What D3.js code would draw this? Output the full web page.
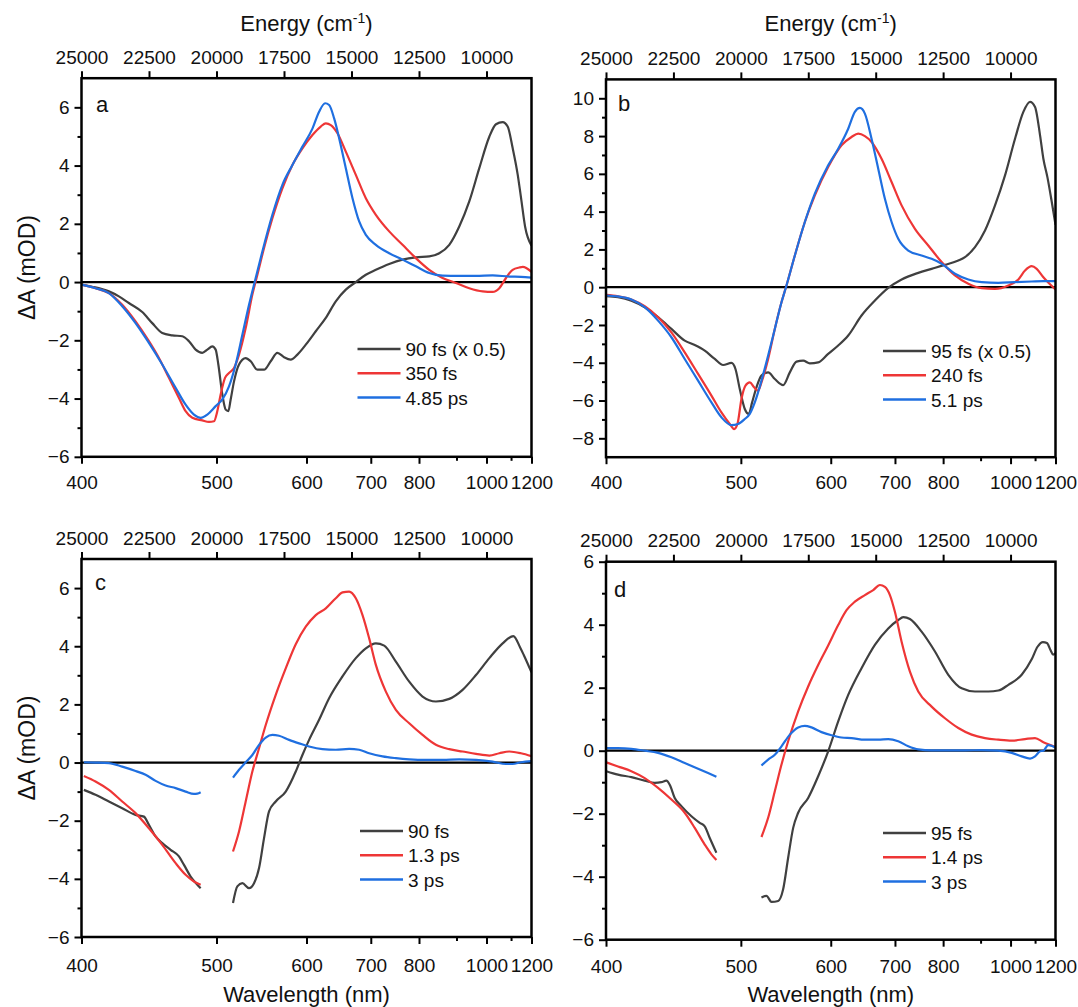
<!DOCTYPE html>
<html>
<head>
<meta charset="utf-8">
<script src="https://cdn.jsdelivr.net/npm/d3@7"></script>
<style>
  body { margin: 0; background: #fff; }
  svg text { font-family: "Liberation Sans", Arial, sans-serif; fill: #111; }
</style>
</head>
<body>
<svg id="fig" width="1078" height="1007"></svg>
<script>
// tick labels
var wlTicks = [400, 500, 600, 700, 800, 1000, 1200];
var wlMinor = [900, 1100];
var eTicks = [25000, 22500, 20000, 17500, 15000, 12500, 10000];

// legend labels
var legendA = ["90 fs (x 0.5)", "350 fs", "4.85 ps"];
var legendB = ["95 fs (x 0.5)", "240 fs", "5.1 ps"];
var legendC = ["90 fs", "1.3 ps", "3 ps"];
var legendD = ["95 fs", "1.4 ps", "3 ps"];

// spectra: [energy (cm-1), dA (mOD)], null = gap in probe window
var a90fs = [[25000,-0.09],[24604,-0.16],[23986,-0.32],[23616,-0.49],[23245,-0.72],[22750,-1.03],[22380,-1.41],[22009,-1.75],[21638,-1.83],[21267,-1.86],[21020,-2.03],[20773,-2.32],[20526,-2.43],[20340,-2.32],[20155,-2.21],[20031,-2.32],[19932,-2.83],[19784,-3.86],[19660,-4.38],[19562,-4.43],[19475,-4.03],[19351,-3.41],[19166,-2.83],[18919,-2.61],[18733,-2.72],[18486,-3.01],[18239,-3.01],[17992,-2.72],[17745,-2.43],[17497,-2.58],[17250,-2.66],[17003,-2.49],[16694,-2.15],[16323,-1.69],[15952,-1.23],[15582,-0.66],[15211,-0.26],[14840,0],[14469,0.25],[14098,0.42],[13604,0.62],[13110,0.77],[12615,0.85],[12121,0.88],[11750,0.99],[11379,1.28],[11009,1.91],[10638,2.77],[10267,3.91],[9896,4.99],[9649,5.42],[9402,5.49],[9216,5.34],[9031,4.6],[8846,3.7],[8722,2.9],[8570,1.9],[8333,1.25]];
var a350fs = [[25000,-0.09],[24481,-0.21],[23986,-0.38],[23492,-0.78],[22998,-1.35],[22503,-2.03],[22132,-2.61],[21762,-3.29],[21391,-3.98],[21144,-4.43],[20896,-4.66],[20526,-4.75],[20278,-4.80],[20093,-4.78],[19969,-4.43],[19846,-3.86],[19685,-3.29],[19537,-3.12],[19351,-2.95],[19166,-2.49],[18919,-1.58],[18672,-0.43],[18486,0.25],[18239,1.17],[17930,2.19],[17559,3.22],[17188,4.02],[16818,4.59],[16447,5.05],[16138,5.34],[15952,5.45],[15767,5.39],[15520,5.11],[15211,4.48],[14840,3.68],[14469,2.88],[14098,2.31],[13604,1.74],[13110,1.28],[12615,0.82],[12121,0.42],[11626,0.14],[11132,-0.03],[10638,-0.21],[10143,-0.32],[9772,-0.34],[9525,-0.21],[9278,0.14],[9031,0.42],[8784,0.50],[8655,0.52],[8333,0.35]];
var a485ps = [[25000,-0.09],[24481,-0.21],[23986,-0.38],[23492,-0.83],[22998,-1.41],[22503,-2.09],[22009,-2.83],[21514,-3.63],[21144,-4.21],[20835,-4.55],[20587,-4.66],[20340,-4.55],[20031,-4.26],[19784,-4.03],[19537,-3.58],[19290,-2.83],[19042,-1.81],[18795,-0.78],[18548,0.14],[18301,1.05],[17930,2.31],[17559,3.34],[17188,4.02],[16818,4.65],[16447,5.27],[16200,5.85],[15977,6.14],[15829,6.08],[15643,5.62],[15458,4.94],[15211,3.91],[14963,2.88],[14716,2.08],[14469,1.62],[14098,1.28],[13604,0.99],[13110,0.77],[12615,0.54],[12121,0.31],[11626,0.22],[11009,0.21],[10390,0.21],[9772,0.23],[9154,0.19],[8722,0.18],[8333,0.15]];

var b95fs = [[25000,-0.48],[24555,-0.53],[24060,-0.71],[23565,-1.06],[23070,-1.59],[22575,-2.21],[22081,-2.83],[21710,-3.06],[21339,-3.36],[20967,-3.80],[20658,-4.12],[20349,-4.01],[20200,-4.33],[20040,-5.39],[19854,-6.45],[19706,-6.71],[19582,-6.10],[19421,-5.30],[19236,-4.68],[18988,-4.51],[18741,-4.86],[18432,-5.18],[18184,-4.51],[17937,-3.94],[17689,-3.89],[17442,-4.03],[17133,-3.98],[16762,-3.53],[16390,-3.09],[16019,-2.56],[15525,-1.50],[15030,-0.71],[14535,-0.04],[14040,0.41],[13422,0.76],[12927,0.97],[12432,1.18],[11937,1.41],[11690,1.59],[11319,2.12],[10947,3.00],[10576,4.33],[10205,5.92],[9834,7.86],[9525,9.28],[9278,9.81],[9092,9.54],[8906,8.04],[8783,6.8],[8630,5.8],[8482,4.6],[8333,3.3]];
var b240fs = [[25000,-0.41],[24555,-0.48],[24060,-0.65],[23565,-1.01],[23070,-1.59],[22575,-2.39],[22081,-3.45],[21586,-4.59],[21091,-5.74],[20720,-6.63],[20411,-7.24],[20250,-7.51],[20126,-7.24],[19978,-5.92],[19829,-5.21],[19668,-5.04],[19508,-5.30],[19359,-5.48],[19236,-5.04],[18988,-3.80],[18741,-2.21],[18493,-0.80],[18308,0.09],[17998,1.68],[17627,3.45],[17256,4.86],[16762,6.36],[16267,7.51],[15896,7.95],[15648,8.13],[15401,8.00],[15154,7.69],[14783,6.80],[14411,5.57],[14040,4.33],[13545,3.09],[13051,2.21],[12556,1.33],[12061,0.62],[11566,0.18],[11071,-0.05],[10576,-0.09],[10082,0.09],[9711,0.41],[9463,0.88],[9216,1.11],[9030,0.97],[8783,0.53],[8333,-0.12]];
var b51ps = [[25000,-0.44],[24555,-0.49],[24060,-0.65],[23565,-1.06],[23070,-1.77],[22575,-2.65],[22081,-3.80],[21586,-4.95],[21091,-6.10],[20720,-6.89],[20349,-7.30],[20101,-7.24],[19854,-6.98],[19669,-6.71],[19483,-6.10],[19236,-4.95],[18988,-3.62],[18741,-2.21],[18493,-0.80],[18308,0.09],[17998,1.68],[17627,3.45],[17256,4.95],[16762,6.45],[16390,7.33],[16019,8.39],[15772,9.28],[15586,9.49],[15401,9.19],[15154,7.86],[14906,6.27],[14659,4.68],[14411,3.45],[14164,2.56],[13793,1.94],[13298,1.68],[12927,1.50],[12556,1.24],[12061,0.71],[11566,0.41],[11071,0.27],[10453,0.23],[9834,0.27],[9216,0.30],[8783,0.32],[8333,0.32]];

var c90fs = [[24913,-0.94],[24481,-1.11],[23986,-1.34],[23492,-1.57],[22998,-1.80],[22689,-1.86],[22503,-2.14],[22256,-2.54],[22009,-2.77],[21700,-3.00],[21391,-3.23],[21205,-3.52],[20958,-3.92],[20711,-4.20],[20587,-4.32],[20000,null],[19389,-4.83],[19228,-4.26],[19042,-4.15],[18795,-4.32],[18610,-4.15],[18424,-3.63],[18239,-2.60],[18054,-1.68],[17806,-1.34],[17436,-1.00],[17065,-0.31],[16818,0.26],[16570,0.78],[16200,1.47],[15829,2.21],[15334,2.96],[14840,3.59],[14469,3.93],[14098,4.10],[13789,4.02],[13357,3.47],[12862,2.78],[12368,2.27],[11874,2.10],[11379,2.19],[10885,2.50],[10390,3.01],[9896,3.59],[9402,4.10],[9006,4.35],[8750,3.95],[8620,3.7],[8333,3.1]];
var c13ps = [[24913,-0.46],[24481,-0.65],[23986,-0.94],[23492,-1.34],[22998,-1.74],[22503,-2.26],[22009,-2.83],[21514,-3.46],[21144,-3.86],[20835,-4.09],[20587,-4.20],[20000,null],[19389,-3.06],[19166,-2.37],[18919,-1.34],[18672,-0.31],[18424,0.49],[18177,1.29],[17806,2.33],[17436,3.24],[17065,4.07],[16694,4.67],[16323,5.07],[15952,5.30],[15582,5.65],[15334,5.85],[15087,5.88],[14840,5.65],[14592,5.07],[14345,4.27],[14098,3.36],[13727,2.44],[13357,1.81],[12862,1.35],[12368,0.95],[11874,0.61],[11379,0.46],[10885,0.38],[10390,0.30],[9896,0.24],[9525,0.32],[9154,0.38],[8722,0.32],[8333,0.22]];
var c3ps = [[24913,0.01],[24481,0],[23986,-0.02],[23492,-0.14],[22998,-0.29],[22627,-0.42],[22256,-0.63],[21885,-0.79],[21514,-0.88],[21144,-1.00],[20835,-1.08],[20711,-1.07],[20587,-1.02],[20000,null],[19389,-0.52],[19166,-0.25],[18919,0.01],[18672,0.26],[18424,0.61],[18177,0.86],[17930,0.95],[17683,0.92],[17312,0.78],[16941,0.66],[16570,0.55],[16076,0.46],[15582,0.44],[15087,0.47],[14716,0.44],[14345,0.32],[13851,0.21],[13357,0.15],[12862,0.11],[12245,0.09],[11626,0.09],[11009,0.11],[10390,0.09],[9772,0.03],[9278,-0.05],[9031,-0.05],[8722,0.01],[8333,0.05]];

var d95fs = [[24988,-0.65],[24555,-0.76],[24060,-0.84],[23565,-0.95],[23194,-1.02],[22947,-1.00],[22761,-0.95],[22637,-1.08],[22452,-1.50],[22204,-1.76],[21833,-2.08],[21524,-2.29],[21339,-2.40],[21153,-2.77],[20906,-3.24],[20000,null],[19236,-4.66],[19050,-4.61],[18864,-4.80],[18617,-4.77],[18432,-4.40],[18246,-3.40],[18060,-2.45],[17875,-1.97],[17504,-1.50],[17133,-0.81],[16762,-0.02],[16390,0.93],[16019,1.77],[15525,2.62],[15030,3.36],[14535,3.88],[14164,4.15],[13978,4.24],[13731,4.18],[13298,3.78],[12803,3.15],[12308,2.41],[11813,1.98],[11319,1.88],[10824,1.88],[10453,1.91],[10082,2.09],[9587,2.41],[9216,2.9],[9000,3.3],[8800,3.45],[8650,3.42],[8520,3.2],[8420,3.05],[8333,3.1]];
var d14ps = [[24988,-0.37],[24555,-0.50],[24060,-0.65],[23565,-0.87],[23070,-1.18],[22575,-1.55],[22081,-1.97],[21710,-2.45],[21339,-2.98],[21091,-3.29],[20906,-3.47],[20000,null],[19236,-2.74],[18988,-2.13],[18741,-1.29],[18493,-0.44],[18246,0.30],[17875,1.25],[17504,2.04],[17133,2.72],[16762,3.34],[16390,3.99],[16081,4.46],[15772,4.73],[15401,4.94],[15092,5.10],[14844,5.26],[14659,5.20],[14473,4.94],[14288,4.41],[14040,3.46],[13731,2.51],[13422,1.88],[12927,1.40],[12432,1.03],[11937,0.72],[11442,0.51],[10947,0.40],[10453,0.35],[9958,0.32],[9463,0.37],[9092,0.40],[8783,0.27],[8333,0.12]];
var d3ps = [[24988,0.08],[24555,0.08],[24060,0.06],[23565,0],[23070,-0.07],[22575,-0.21],[22081,-0.39],[21586,-0.57],[21215,-0.71],[20906,-0.83],[20000,null],[19236,-0.47],[18988,-0.28],[18741,-0.13],[18493,0.14],[18184,0.51],[17875,0.74],[17627,0.79],[17380,0.74],[17009,0.59],[16638,0.49],[16267,0.42],[15896,0.40],[15401,0.35],[14906,0.35],[14535,0.37],[14164,0.30],[13793,0.14],[13422,0.04],[12927,0.01],[12308,0.01],[11690,0.01],[11071,0.02],[10453,0],[9958,-0.07],[9587,-0.18],[9278,-0.25],[9092,-0.18],[8906,-0.02],[8783,0],[8600,0.18],[8333,0.1]];

var colors = ["#404040", "#ee3636", "#1f6fe0"];
var eMax = 25000, eMin = 1e7 / 1200;

var panels = [
  {id: "a", x0: 81.5, x1: 531.5, y0: 78.2, y1: 456.8, yDom: [-6, 7], major: d3.range(-6, 7, 2), minor: d3.range(-5, 7, 2),
   series: [a90fs, a350fs, a485ps], names: legendA, leg: [357.5, 349], lab: [96, 112], eTitle: true, yTitle: true, botPad: 11.5},
  {id: "b", x0: 606, x1: 1055.5, y0: 79.4, y1: 457.2, yDom: [-9, 11], major: d3.range(-8, 11, 2), minor: d3.range(-7, 11, 2),
   series: [b95fs, b240fs, b51ps], names: legendB, leg: [883, 351], lab: [618, 111], eTitle: true, yTitle: false, botPad: 11.5},
  {id: "c", x0: 81.5, x1: 531.5, y0: 559, y1: 937, yDom: [-6, 7], major: d3.range(-6, 7, 2), minor: d3.range(-5, 7, 2),
   series: [c90fs, c13ps, c3ps], names: legendC, leg: [360, 831], lab: [95, 590], wTitle: true, yTitle: true, botPad: 15},
  {id: "d", x0: 606, x1: 1055.5, y0: 561.7, y1: 939.7, yDom: [-6, 6], major: d3.range(-6, 7, 2), minor: d3.range(-5, 6, 2),
   series: [d95fs, d14ps, d3ps], names: legendD, leg: [883, 833], lab: [614, 597], wTitle: true, yTitle: false, botPad: 13}
];

var svg = d3.select("#fig");

function styleAxis(g) {
  g.select(".domain").remove();
  g.selectAll(".tick line").attr("stroke", "#000").attr("stroke-width", 2);
  g.selectAll(".tick text").attr("font-size", 19).attr("fill", "#111");
}

panels.forEach(function(p) {
  var x = d3.scaleLinear().domain([eMax, eMin]).range([p.x0, p.x1]);
  var y = d3.scaleLinear().domain(p.yDom).range([p.y1, p.y0]);
  var g = svg.append("g");

  g.append("clipPath").attr("id", "clip-" + p.id)
    .append("rect")
    .attr("x", p.x0).attr("y", p.y0)
    .attr("width", p.x1 - p.x0).attr("height", p.y1 - p.y0);

  // zero line
  g.append("line")
    .attr("x1", p.x0).attr("x2", p.x1)
    .attr("y1", y(0)).attr("y2", y(0))
    .attr("stroke", "#000").attr("stroke-width", 2.2);

  var line = d3.line()
    .defined(function(d) { return d[1] !== null; })
    .x(function(d) { return x(d[0]); })
    .y(function(d) { return y(d[1]); })
    .curve(d3.curveMonotoneX);

  g.append("g").attr("clip-path", "url(#clip-" + p.id + ")")
    .selectAll("path")
    .data(p.series)
    .enter().append("path")
      .attr("d", line)
      .attr("fill", "none")
      .attr("stroke", function(d, i) { return colors[i]; })
      .attr("stroke-width", 2.2)
      .attr("stroke-linejoin", "round");

  // frame
  g.append("rect")
    .attr("x", p.x0).attr("y", p.y0)
    .attr("width", p.x1 - p.x0).attr("height", p.y1 - p.y0)
    .attr("fill", "none").attr("stroke", "#000").attr("stroke-width", 2.5);

  // top energy axis
  g.append("g").attr("transform", "translate(0," + p.y0 + ")")
    .call(d3.axisTop(x).tickValues(eTicks).tickSize(7).tickPadding(7.5).tickFormat(d3.format("d")))
    .call(styleAxis);

  // bottom wavelength axis
  g.append("g").attr("transform", "translate(0," + p.y1 + ")")
    .call(d3.axisBottom(x).tickValues(wlTicks.map(function(w) { return 1e7 / w; }))
      .tickSize(7).tickPadding(p.botPad)
      .tickFormat(function(d) { return Math.round(1e7 / d); }))
    .call(styleAxis);
  g.append("g").attr("transform", "translate(0," + p.y1 + ")")
    .call(d3.axisBottom(x).tickValues(wlMinor.map(function(w) { return 1e7 / w; })).tickSize(4).tickFormat(""))
    .call(styleAxis);

  // left axis
  g.append("g").attr("transform", "translate(" + p.x0 + ",0)")
    .call(d3.axisLeft(y).tickValues(p.major).tickSize(7).tickPadding(5))
    .call(styleAxis);
  g.append("g").attr("transform", "translate(" + p.x0 + ",0)")
    .call(d3.axisLeft(y).tickValues(p.minor).tickSize(4).tickFormat(""))
    .call(styleAxis);

  // panel letter
  g.append("text").attr("x", p.lab[0]).attr("y", p.lab[1])
    .attr("font-size", 22).text(p.id);

  // legend
  var leg = g.append("g");
  p.names.forEach(function(name, i) {
    var ly = p.leg[1] + i * 24.3;
    leg.append("line")
      .attr("x1", p.leg[0]).attr("x2", p.leg[0] + 43)
      .attr("y1", ly).attr("y2", ly)
      .attr("stroke", colors[i]).attr("stroke-width", 2.5);
    leg.append("text")
      .attr("x", p.leg[0] + 48).attr("y", ly + 7)
      .attr("font-size", 19).text(name);
  });

  var cx = (p.x0 + p.x1) / 2;
  if (p.eTitle) {
    var t = g.append("text").attr("x", cx).attr("y", 31)
      .attr("text-anchor", "middle").attr("font-size", 22);
    t.append("tspan").text("Energy (cm");
    t.append("tspan").attr("font-size", 14).attr("dy", -8).text("-1");
    t.append("tspan").attr("dy", 8).text(")");
  }
  if (p.wTitle) {
    g.append("text").attr("x", cx).attr("y", 1002)
      .attr("text-anchor", "middle").attr("font-size", 22).text("Wavelength (nm)");
  }
  if (p.yTitle) {
    g.append("text")
      .attr("transform", "translate(35," + ((p.y0 + p.y1) / 2) + ") rotate(-90)")
      .attr("text-anchor", "middle").attr("font-size", 23).text("ΔA (mOD)");
  }
});
</script>
</body>
</html>
